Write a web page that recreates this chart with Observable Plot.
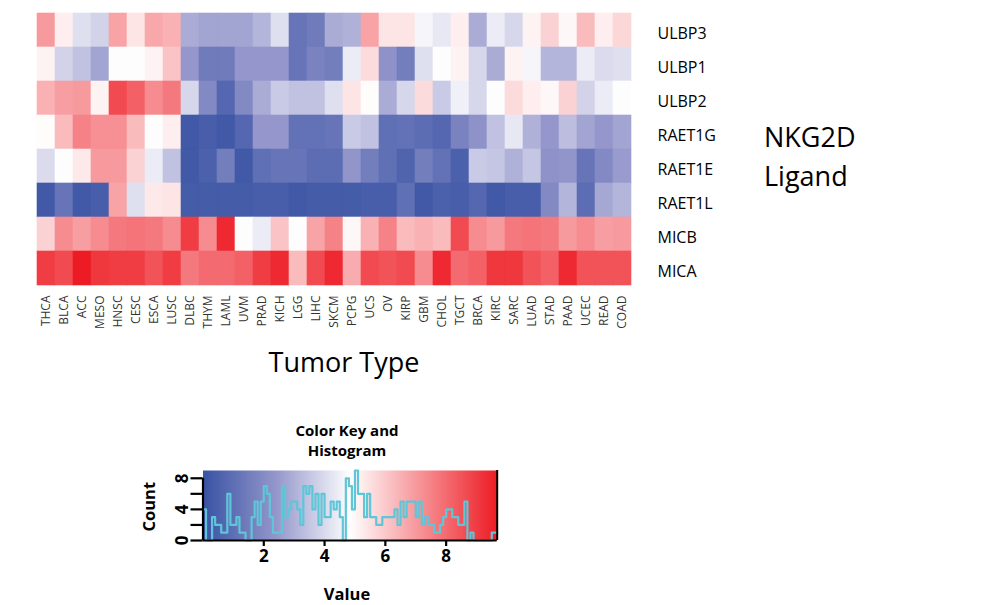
<!DOCTYPE html>
<html><head><meta charset="utf-8">
<script src="https://cdn.jsdelivr.net/npm/d3@7"></script>
<script src="https://cdn.jsdelivr.net/npm/@observablehq/plot@0.6"></script>
<style>
body{margin:0;background:#fff;font-family:"Open Sans",sans-serif;}
#wrap{position:relative;width:984px;height:605px;overflow:hidden;background:#fff;}
#wrap > svg, #wrap > figure{position:absolute;margin:0;}
</style></head><body><div id="wrap"></div>
<script>
// ---- data ----
const tumors = ["THCA","BLCA","ACC","MESO","HNSC","CESC","ESCA","LUSC","DLBC","THYM","LAML","UVM","PRAD","KICH","LGG","LIHC","SKCM","PCPG","UCS","OV","KIRP","GBM","CHOL","TGCT","BRCA","KIRC","SARC","LUAD","STAD","PAAD","UCEC","READ","COAD"];
const genes = ["ULBP3","ULBP1","ULBP2","RAET1G","RAET1E","RAET1L","MICB","MICA"];
const ULBP3  = [7.0,5.2,4.1,3.8,6.8,5.4,6.7,6.5,2.9,2.7,2.7,2.7,3.1,4.1,1.2,1.4,2.9,3.0,6.8,5.4,5.4,4.6,4.3,5.2,2.9,4.4,3.9,5.1,5.8,5.0,6.3,5.2,5.7];
const ULBP1  = [5.1,3.8,3.4,2.7,4.8,4.8,5.1,6.1,2.4,1.4,1.4,2.4,2.4,2.4,1.2,1.7,1.5,4.4,5.6,2.2,1.5,4.1,4.8,5.1,3.9,2.9,5.1,4.6,3.1,3.1,4.4,4.0,4.1];
const ULBP2  = [6.5,6.9,7.0,5.1,8.7,8.2,7.3,7.7,3.9,1.9,0.7,1.9,2.9,3.6,3.4,3.4,4.1,5.4,4.9,2.9,3.9,5.6,3.6,4.5,3.9,4.8,5.6,5.2,5.0,5.8,3.8,4.4,4.8];
const RAET1G = [4.9,6.3,7.5,7.2,7.2,6.3,4.8,5.2,0.2,0.4,0.2,0.7,2.4,2.4,1.1,1.1,1.2,3.6,3.4,1.0,1.1,0.9,0.7,1.7,2.2,3.4,4.3,3.0,2.4,3.3,2.7,2.4,2.7];
const RAET1E = [4.0,4.8,5.3,7.0,7.0,5.8,4.4,3.4,0.2,0.5,1.5,0.2,1.0,1.2,1.2,0.9,0.9,2.3,1.5,1.0,0.6,1.5,1.1,0.5,3.6,3.5,3.0,3.5,2.2,2.3,1.2,1.9,2.5];
const RAET1L = [0.2,1.2,0.2,0.4,6.8,4.1,5.3,5.4,0.3,0.3,0.3,0.3,0.4,0.4,0.2,0.3,0.3,0.3,0.4,0.4,1.0,0.2,0.5,0.4,0.7,0.2,0.4,0.4,1.9,3.1,0.9,2.8,3.1];
const MICB   = [5.8,7.3,6.9,7.3,7.7,7.8,7.7,7.3,9.0,7.3,9.4,4.8,4.4,6.1,4.8,6.8,7.5,5.0,6.5,7.5,6.3,6.5,6.3,8.7,7.3,7.0,7.7,7.8,7.7,7.0,7.3,6.9,7.0];
const MICA   = [9.0,8.7,9.7,9.1,9.0,9.0,8.5,9.0,7.7,8.0,8.0,8.2,9.0,9.4,6.3,8.7,9.4,6.6,8.7,8.5,8.7,7.3,9.4,8.0,8.2,9.1,9.1,8.5,8.2,9.4,8.5,8.5,8.5];

// color key (value range) and histogram
const keyDomain = [0, 2.42, 4.84, 9.68];
const keyColors = ["#3953a4", "#9698cc", "#ffffff", "#ed1c24"];
const histEdges = [0.0,0.1,0.2,0.3,0.4,0.5,0.6,0.7,0.8,0.9,1.0,1.1,1.2,1.3,1.4,1.5,1.6,1.7,1.8,1.9,2.0,2.1,2.2,2.3,2.4,2.5,2.6,2.7,2.8,2.9,3.0,3.1,3.2,3.3,3.4,3.5,3.6,3.7,3.8,3.9,4.0,4.1,4.2,4.3,4.4,4.5,4.6,4.7,4.8,4.9,5.0,5.1,5.2,5.3,5.4,5.5,5.6,5.7,5.8,5.9,6.0,6.1,6.2,6.3,6.4,6.5,6.6,6.7,6.8,6.9,7.0,7.1,7.2,7.3,7.4,7.5,7.6,7.7,7.8,7.9,8.0,8.1,8.2,8.3,8.4,8.5,8.6,8.7,8.8,8.9,9.0,9.1,9.2,9.3,9.4,9.5,9.6,9.68];
const histCounts = [4,0,0,3,2,2,1,1,6,2, 2,3,1,1,0,0,3,5,2,5, 7,6,3,1,1,1,7,3,4,5, 5,4,2,7,6,7,4,6,2,6, 3,3,5,4,5,3,0,8,7,4, 9,6,6,3,6,3,3,2,2,3, 3,3,3,4,2,5,3,5,5,5, 3,5,2,3,2,2,1,1,2,3, 4,4,3,3,2,2,5,0,1,0, 0,0,0,0,0,1,1];
const keyXTicks = [2, 4, 6, 8];
const keyYTicks = [0, 2, 4, 6, 8];
const keyYLabels = ["0", "", "4", "", "8"];

// ---- build tables ----
const rows = {ULBP3, ULBP1, ULBP2, RAET1G, RAET1E, RAET1L, MICB, MICA};
const table = genes.flatMap(g => tumors.map((t, i) => ({gene: g, tumor: t, value: rows[g][i]})));
const hist = histEdges.map((e, i) => ({v: e, n: histCounts[Math.min(i, histCounts.length - 1)]}));
const xMin = keyDomain[0], xMax = keyDomain[keyDomain.length - 1];

const colorScale = {type: "linear", domain: keyDomain, range: keyColors, clamp: true};
const wrap = document.getElementById("wrap");

// ---- heatmap ----
const heat = Plot.plot({
  width: 720, height: 350,
  marginLeft: 25, marginRight: 78, marginTop: 10, marginBottom: 63,
  style: {fontFamily: "Open Sans", background: "transparent", overflow: "visible"},
  x: {domain: tumors, padding: 0},
  y: {domain: genes, padding: 0},
  color: colorScale,
  marks: [
    Plot.cell(table, {x: "tumor", y: "gene", fill: "value", stroke: "value", strokeWidth: 0.6}),
    Plot.axisX({tickSize: 0, tickPadding: 8, tickRotate: -90, fontSize: 12, label: null, fill: "#333"}),
    Plot.axisY({anchor: "right", tickSize: 0, tickPadding: 15, fontSize: 16, label: null, dy: 3.5, fill: "#000"})
  ]
});
heat.style.left = "0px"; heat.style.top = "0px";
wrap.appendChild(heat);

// ---- color key and histogram ----
const key = Plot.plot({
  width: 420, height: 205,
  marginLeft: 102.5, marginRight: 23.3, marginTop: 70, marginBottom: 65,
  style: {fontFamily: "Open Sans", background: "transparent", overflow: "visible"},
  x: {domain: [xMin, xMax]},
  y: {domain: [0, 9]},
  color: colorScale,
  marks: [
    Plot.raster({x1: xMin, x2: xMax, y1: 0, y2: 9, fill: (x, y) => x, pixelSize: 1, imageRendering: "auto"}),
    Plot.line(hist, {x: "v", y: "n", curve: "step-after", stroke: "#5fc6d8", strokeWidth: 2.2}),
    Plot.ruleY([0], {x1: xMin, x2: xMax, strokeWidth: 2.2}),
    Plot.ruleX([xMax], {y1: 0, y2: 9, strokeWidth: 2}),
    Plot.ruleX([xMin], {y1: 0, y2: 8, strokeWidth: 2.2}),
    Plot.axisY({ticks: keyYTicks, tickFormat: d => keyYLabels[keyYTicks.indexOf(d)], tickSize: 12, tickPadding: 3, tickRotate: -90, fontSize: 17, fontWeight: "bold", strokeWidth: 2.2, label: null}),
    Plot.axisX({ticks: keyXTicks, tickFormat: d => String(d), tickSize: 6, tickPadding: 3, fontSize: 17, fontWeight: "bold", strokeWidth: 2.2, label: null})
  ]
});
key.style.left = "100px"; key.style.top = "400px";
wrap.appendChild(key);

// ---- free text ----
const ov = d3.select(wrap).append("svg")
  .attr("width", 984).attr("height", 605)
  .style("left", "0px").style("top", "0px").style("pointer-events", "none")
  .style("font-family", "Open Sans");
ov.append("text").attr("x", 344).attr("y", 372).attr("text-anchor", "middle").attr("font-size", 27).text("Tumor Type");
ov.append("text").attr("x", 764).attr("y", 147).attr("font-size", 27).text("NKG2D");
ov.append("text").attr("x", 764).attr("y", 186).attr("font-size", 27).text("Ligand");
ov.append("text").attr("x", 347).attr("y", 436).attr("text-anchor", "middle").attr("font-size", 15).attr("font-weight", "bold").text("Color Key and");
ov.append("text").attr("x", 347).attr("y", 456).attr("text-anchor", "middle").attr("font-size", 15).attr("font-weight", "bold").text("Histogram");
ov.append("text").attr("transform", "translate(155,506.7) rotate(-90)").attr("text-anchor", "middle").attr("font-size", 16.5).attr("font-weight", "bold").text("Count");
ov.append("text").attr("x", 347).attr("y", 599.5).attr("text-anchor", "middle").attr("font-size", 16.5).attr("font-weight", "bold").text("Value");
</script></body></html>
